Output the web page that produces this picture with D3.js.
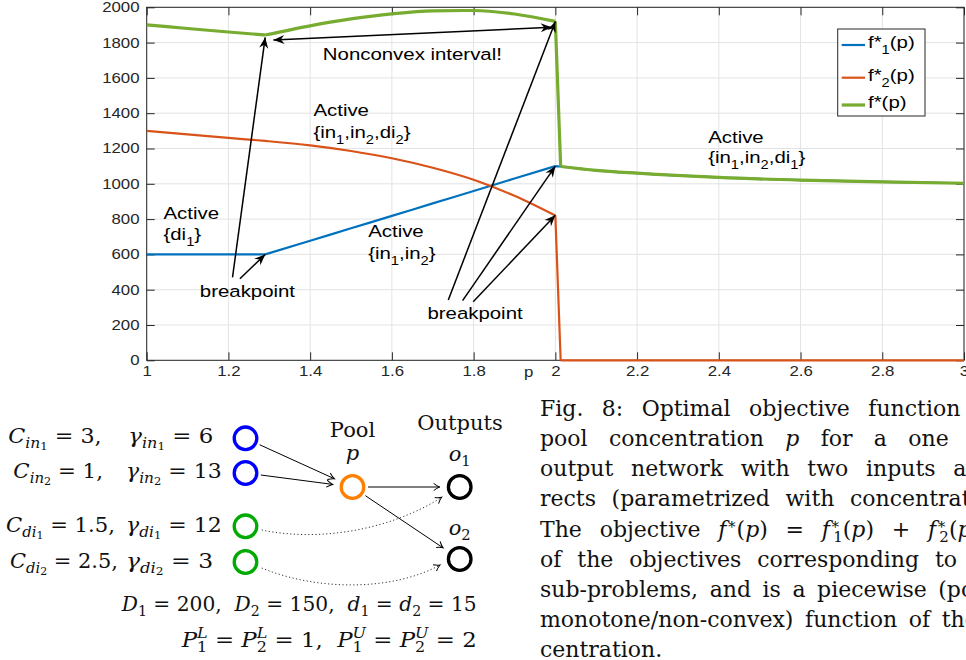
<!DOCTYPE html>
<html>
<head>
<meta charset="utf-8">
<script src="https://cdn.jsdelivr.net/npm/d3@7"></script>
<style>
  body { margin: 0; background: #fff; }
  svg { display: block; }
  text { white-space: pre; }
</style>
</head>
<body>
<svg width="966" height="660"></svg>
<script>
// ---- chart data ----
const pValues = [1.0, 1.1, 1.2, 1.29, 1.4, 1.5, 1.6, 1.7, 1.8, 1.9, 2.0, 2.013, 2.1, 2.2, 2.4, 2.6, 2.8, 3.0];
const f1Values = [600, 600, 600, 600, 677, 748, 818, 889, 959, 1030, 1100, 1098, 1076, 1060, 1036, 1021, 1011, 1003];
const f2Values = [1300, 1280, 1260, 1243, 1218, 1186, 1145, 1091, 1023, 932, 820, 0, 0, 0, 0, 0, 0, 0];
const fValues = [1900, 1880, 1860, 1843, 1895, 1934, 1963, 1980, 1982, 1962, 1920, 1098, 1076, 1060, 1036, 1021, 1011, 1003];
// indices where a series has a kink (breakpoints)
const seriesBreaks = [[0, 3, 10, 11, 17], [0, 10, 11, 17], [0, 3, 10, 11, 17]];

const xTicks = [1, 1.2, 1.4, 1.6, 1.8, 2, 2.2, 2.4, 2.6, 2.8, 3];
const xTickLabels = ['1', '1.2', '1.4', '1.6', '1.8', '2', '2.2', '2.4', '2.6', '2.8', '3'];
const yTicks = [0, 200, 400, 600, 800, 1000, 1200, 1400, 1600, 1800, 2000];

const seriesNames = [
  [['f*'], ['1', 1], ['(p)']],
  [['f*'], ['2', 1], ['(p)']],
  [['f*(p)']],
];
const seriesColors = ['#0072BD', '#D95319', '#77AC30'];

// annotations in data units (p, value)
const notes = [
  { p: 1.431, v: 1701, parts: [['Nonconvex interval!']] },
  { p: 1.408, v: 1384, parts: [['Active']] },
  { p: 1.408, v: 1261, parts: [['{in'], ['1', 1], [',in'], ['2', 1], [',di'], ['2', 1], ['}']] },
  { p: 1.041, v: 799, parts: [['Active']] },
  { p: 1.041, v: 682, parts: [['{di'], ['1', 1], ['}']] },
  { p: 1.542, v: 697, parts: [['Active']] },
  { p: 1.542, v: 572, parts: [['{in'], ['1', 1], [',in'], ['2', 1], ['}']] },
  { p: 2.374, v: 1229, parts: [['Active']] },
  { p: 2.374, v: 1116, parts: [['{in'], ['1', 1], [',in'], ['2', 1], [',di'], ['1', 1], ['}']] },
  { p: 1.13, v: 357, parts: [['breakpoint']] },
  { p: 1.687, v: 232, parts: [['breakpoint']] },
];
const arrows = [
  { from: [1.31, 1815], to: [1.991, 1887], both: true },
  { from: [1.21, 470], to: [1.29, 1830] },
  { from: [1.228, 462], to: [1.29, 600] },
  { from: [1.738, 342], to: [2.0, 1920] },
  { from: [1.773, 338], to: [2.0, 1100] },
  { from: [1.799, 332], to: [2.0, 822] },
];

const svg = d3.select('svg');
const width = +svg.attr('width');

const margin = { left: 146.7, top: 7.3, right: 2, bottom: 299.7 };
const innerWidth = width - margin.left - margin.right;
const innerHeight = 360.3 - margin.top;
const sx = 1.2; // the matlab figure is stretched horizontally

const x = d3.scaleLinear().domain([1, 3]).range([0, innerWidth]);
const y = d3.scaleLinear().domain([0, 2000]).range([innerHeight, 0]);

const g = svg.append('g')
  .attr('transform', `translate(${margin.left}, ${margin.top})`)
  .attr('font-family', '"Liberation Sans", Arial, sans-serif');

const chartText = (parent, px, py, parts, size, anchor) => {
  const t = parent.append('text')
    .attr('transform', `translate(${px},${py}) scale(${sx},1)`)
    .attr('font-size', size)
    .attr('text-anchor', anchor || 'start');
  let level = 0;
  parts.forEach(([s, sub]) => {
    const target = sub ? Math.round(size * 0.33) : 0;
    t.append('tspan')
      .attr('dy', target - level)
      .attr('font-size', sub ? size * 0.72 : size)
      .text(s);
    level = target;
  });
  return t;
};

// grid
g.append('g').selectAll('line').data(xTicks).join('line')
  .attr('x1', (d) => x(d)).attr('x2', (d) => x(d))
  .attr('y1', 0).attr('y2', innerHeight)
  .attr('stroke', '#e3e3e3');
g.append('g').selectAll('line').data(yTicks).join('line')
  .attr('y1', (d) => y(d)).attr('y2', (d) => y(d))
  .attr('x1', 0).attr('x2', innerWidth)
  .attr('stroke', '#e3e3e3');

// axes, matlab style ticks pointing inwards
const styleAxis = (sel) => {
  sel.select('.domain').remove();
  sel.selectAll('line').attr('stroke', '#262626');
  sel.selectAll('text')
    .attr('fill', '#262626')
    .attr('font-size', 14)
    .attr('font-family', '"Liberation Sans", Arial, sans-serif')
    .attr('transform', `scale(${sx},1)`);
};
g.append('g').attr('transform', `translate(0, ${innerHeight})`)
  .call(d3.axisBottom(x).tickValues(xTicks).tickFormat((d, i) => xTickLabels[i])
    .tickSizeInner(-8).tickSizeOuter(0).tickPadding(6))
  .call(styleAxis);
g.append('g')
  .call(d3.axisLeft(y).tickValues(yTicks).tickFormat(d3.format('d'))
    .tickSizeInner(-8).tickSizeOuter(0).tickPadding(6))
  .call(styleAxis);
g.append('g')
  .call(d3.axisTop(x).tickValues(xTicks).tickFormat('').tickSizeInner(-8).tickSizeOuter(0))
  .call(styleAxis);
g.append('g').attr('transform', `translate(${innerWidth}, 0)`)
  .call(d3.axisRight(y).tickValues(yTicks).tickFormat('').tickSizeInner(-8).tickSizeOuter(0))
  .call(styleAxis);
g.append('rect')
  .attr('width', innerWidth).attr('height', innerHeight)
  .attr('fill', 'none').attr('stroke', '#262626');

chartText(g, x(1.935), innerHeight + 16.2, [['p']], 14, 'middle').attr('fill', '#262626');

// series, smooth between breakpoints
const line = d3.line()
  .x((d) => x(pValues[d.i]))
  .y((d) => y(d.v))
  .curve(d3.curveMonotoneX);
[f1Values, f2Values, fValues].forEach((vals, k) => {
  const pts = vals.map((v, i) => ({ i, v }));
  const br = seriesBreaks[k];
  const d = d3.range(br.length - 1)
    .map((j) => line(pts.slice(br[j], br[j + 1] + 1)))
    .join('');
  g.append('path')
    .attr('d', d)
    .attr('fill', 'none')
    .attr('stroke', seriesColors[k])
    .attr('stroke-width', k === 2 ? 3.2 : 2.2)
    .attr('stroke-linejoin', 'round');
});

// annotation arrows
const head = (parent, x1, y1, x2, y2) => {
  const a = Math.atan2(y2 - y1, x2 - x1) * 180 / Math.PI;
  parent.append('path')
    .attr('d', 'M0,0L-11,-4.5L-7.5,0L-11,4.5Z')
    .attr('transform', `translate(${x2},${y2}) rotate(${a})`)
    .attr('fill', '#000');
};
const ann = g.append('g');
arrows.forEach((d) => {
  const [ax, ay] = [x(d.from[0]), y(d.from[1])];
  const [bx, by] = [x(d.to[0]), y(d.to[1])];
  ann.append('line')
    .attr('x1', ax).attr('y1', ay).attr('x2', bx).attr('y2', by)
    .attr('stroke', '#000').attr('stroke-width', 1.5);
  head(ann, ax, ay, bx, by);
  if (d.both) head(ann, bx, by, ax, ay);
});
notes.forEach((d) => {
  chartText(ann, x(d.p), y(d.v), d.parts, 17).attr('fill', '#000');
});

// legend
const legend = g.append('g').attr('transform', `translate(${837.7 - margin.left}, ${29 - margin.top})`);
legend.append('rect')
  .attr('width', 87.3).attr('height', 87)
  .attr('fill', '#fff').attr('stroke', '#262626');
const legendY = [16, 48.7, 76];
seriesNames.forEach((parts, k) => {
  legend.append('line')
    .attr('x1', 4).attr('x2', 27.3)
    .attr('y1', legendY[k]).attr('y2', legendY[k])
    .attr('stroke', seriesColors[k])
    .attr('stroke-width', k === 2 ? 3.2 : 2.2);
  chartText(legend, 30.3, legendY[k] + 3.3, parts, 17).attr('fill', '#000');
});

// ---- network diagram below the chart ----
const serif = '"DejaVu Serif", "Liberation Serif", serif';
const it = (s, lv = 0, st = 0) => ({ s, i: 1, lv, st });
const rm = (s, lv = 0, st = 0) => ({ s, i: 0, lv, st });

const mathText = (parent, x0, y0, toks, fs, x1, anchor) => {
  const grp = parent.append('g').attr('font-family', serif).attr('fill', '#111');
  let cx = 0;
  let prevX = 0;
  toks.forEach((t) => {
    const size = t.lv === 0 ? fs : t.lv === 2 ? fs * 0.52 : fs * 0.7;
    const dy = t.lv === 1 ? fs * 0.22 : t.lv === 2 ? fs * 0.32 : t.lv === -1 ? -fs * 0.42 : 0;
    const px = t.st ? prevX : cx;
    const el = grp.append('text')
      .attr('x', px).attr('y', dy)
      .attr('font-size', size)
      .attr('font-style', t.i ? 'italic' : 'normal')
      .text(t.s);
    const w = el.node().getComputedTextLength();
    if (t.st) {
      cx = Math.max(cx, px + w);
    } else {
      prevX = px;
      cx = px + w;
    }
  });
  const k = x1 ? (x1 - x0) / cx : 1;
  const shift = anchor === 'middle' ? -cx * k / 2 : 0;
  grp.attr('transform', `translate(${x0 + shift},${y0}) scale(${k},1)`);
  return grp;
};

const nodes = [
  { id: 'in1', x: 245.5, y: 438.3, c: '#0000ff' },
  { id: 'in2', x: 245.5, y: 473, c: '#0000ff' },
  { id: 'di1', x: 245.5, y: 526.3, c: '#00aa00' },
  { id: 'di2', x: 245.5, y: 562, c: '#00aa00' },
  { id: 'pool', x: 352.5, y: 487, c: '#ff8000' },
  { id: 'o1', x: 459.7, y: 487, c: '#000000' },
  { id: 'o2', x: 459.7, y: 559, c: '#000000' },
];
const byId = Object.fromEntries(nodes.map((d) => [d.id, d]));
const edges = [['in1', 'pool'], ['in2', 'pool'], ['pool', 'o1'], ['pool', 'o2']];
const bypass = [
  'M261.7,530C320,542 390,530 441.7,497.3',
  'M261.7,568C320,592 395,590 440,565',
];
const bypassEnds = [[390, 530, 441.7, 497.3], [395, 590, 440, 565]];

const net = svg.append('g');
const openHead = (x1, y1, x2, y2) => {
  const a = Math.atan2(y2 - y1, x2 - x1) * 180 / Math.PI;
  net.append('path')
    .attr('d', 'M-6,-3.6Q-2.5,-0.8 0,0Q-2.5,0.8 -6,3.6')
    .attr('transform', `translate(${x2},${y2}) rotate(${a})`)
    .attr('fill', 'none').attr('stroke', '#000').attr('stroke-width', 1);
};
edges.forEach(([s, t]) => {
  const a = byId[s];
  const b = byId[t];
  const len = Math.hypot(b.x - a.x, b.y - a.y);
  const ux = (b.x - a.x) / len;
  const uy = (b.y - a.y) / len;
  const x1 = a.x + ux * 15.5;
  const y1 = a.y + uy * 15.5;
  const x2 = b.x - ux * 20;
  const y2 = b.y - uy * 20;
  net.append('line')
    .attr('x1', x1).attr('y1', y1).attr('x2', x2).attr('y2', y2)
    .attr('stroke', '#000').attr('stroke-width', 1);
  openHead(x1, y1, x2, y2);
});
bypass.forEach((d, i) => {
  net.append('path').attr('d', d)
    .attr('fill', 'none').attr('stroke', '#333')
    .attr('stroke-width', 1).attr('stroke-dasharray', '1.2 2.4');
  const e = bypassEnds[i];
  openHead(e[0], e[1], e[2], e[3]);
});
net.selectAll('circle').data(nodes).join('circle')
  .attr('cx', (d) => d.x).attr('cy', (d) => d.y).attr('r', 11.3)
  .attr('fill', '#fff').attr('stroke', (d) => d.c).attr('stroke-width', 3.3);

const paramLabels = [
  { x0: 8.3, x1: 101.7, y: 443, toks: [it('C'), it('in', 1), rm('1', 2), rm(' = 3,')] },
  { x0: 128.3, x1: 213.3, y: 443, toks: [it('γ'), it('in', 1), rm('1', 2), rm(' = 6')] },
  { x0: 13.3, x1: 103, y: 478, toks: [it('C'), it('in', 1), rm('2', 2), rm(' = 1,')] },
  { x0: 126, x1: 221.7, y: 478, toks: [it('γ'), it('in', 1), rm('2', 2), rm(' = 13')] },
  { x0: 6, x1: 115, y: 532, toks: [it('C'), it('di', 1), rm('1', 2), rm(' = 1.5,')] },
  { x0: 126, x1: 221.7, y: 532, toks: [it('γ'), it('di', 1), rm('1', 2), rm(' = 12')] },
  { x0: 10, x1: 118, y: 568, toks: [it('C'), it('di', 1), rm('2', 2), rm(' = 2.5,')] },
  { x0: 126, x1: 213.3, y: 568, toks: [it('γ'), it('di', 1), rm('2', 2), rm(' = 3')] },
  {
    x0: 121.7, x1: 476.7, y: 611,
    toks: [it('D'), rm('1', 1), rm(' = 200,  '), it('D'), rm('2', 1), rm(' = 150,  '),
      it('d'), rm('1', 1), rm(' = '), it('d'), rm('2', 1), rm(' = 15')],
  },
  {
    x0: 181.7, x1: 476.7, y: 647,
    toks: [it('P'), it('L', -1), rm('1', 1, 1), rm(' = '), it('P'), it('L', -1), rm('2', 1, 1),
      rm(' = 1,  '), it('P'), it('U', -1), rm('1', 1, 1), rm(' = '), it('P'), it('U', -1),
      rm('2', 1, 1), rm(' = 2')],
  },
];
paramLabels.forEach((d) => mathText(net, d.x0, d.y, d.toks, 21, d.x1));

mathText(net, 352.5, 437, [rm('Pool')], 21, null, 'middle');
mathText(net, 352.5, 460, [it('p')], 21, null, 'middle');
mathText(net, 460, 430, [rm('Outputs')], 21, null, 'middle');
mathText(net, 459.7, 461, [it('o'), rm('1', 1)], 21, null, 'middle');
mathText(net, 459.7, 535, [it('o'), rm('2', 1)], 21, null, 'middle');

// ---- caption, justified by word spacing ----
const captionLines = [
  { parts: [['Fig. 8: Optimal objective function']], last: 868.3 },
  { parts: [['pool concentration '], ['p', 'i'], [' for a one']], last: 908.3 },
  { parts: [['output network with two inputs and']], last: 953.3 },
  { parts: [['rects (parametrized with concentrations']], last: 850 },
  {
    parts: [['The objective '], ['f', 'i'], ['∗', 'sup'], ['('], ['p', 'i'], [') = '],
      ['f', 'i'], ['∗', 'sup'], ['1', 'sub'], ['('], ['p', 'i'], [') + '],
      ['f', 'i'], ['∗', 'sup'], ['2', 'sub'], ['('], ['p', 'i'], [')']],
    last: 935,
  },
  { parts: [['of the objectives corresponding to']], last: 935 },
  { parts: [['sub-problems, and is a piecewise (possibly']], last: 938.3 },
  { parts: [['monotone/non-convex) function of the']], last: 941.7 },
  { parts: [['centration.']], last: null },
];
const capX = 540;
const cap = svg.append('g').attr('font-family', serif).attr('fill', '#111').attr('font-size', 22);
captionLines.forEach((ln, i) => {
  const t = cap.append('text').attr('x', capX).attr('y', 416 + i * 30.15);
  let level = 0;
  let prevSup = false;
  ln.parts.forEach(([s, kind]) => {
    const target = kind === 'sup' ? -8 : kind === 'sub' ? 5 : 0;
    const ts = t.append('tspan')
      .attr('dy', target - level)
      .attr('font-size', kind === 'sup' || kind === 'sub' ? 15 : 22)
      .attr('font-style', kind === 'i' ? 'italic' : 'normal')
      .text(s);
    if (kind === 'sub' && prevSup) ts.attr('dx', -7);
    prevSup = kind === 'sup';
    level = target;
  });
  if (ln.last) {
    const full = ln.parts.map((d) => d[0]).join('');
    const idx = full.lastIndexOf(' ') + 1;
    const pre = t.node().getSubStringLength(0, idx);
    const n = full.slice(0, idx).split(' ').length - 1;
    t.style('word-spacing', `${(ln.last - capX - pre) / n}px`);
  }
});
</script>
</body>
</html>
